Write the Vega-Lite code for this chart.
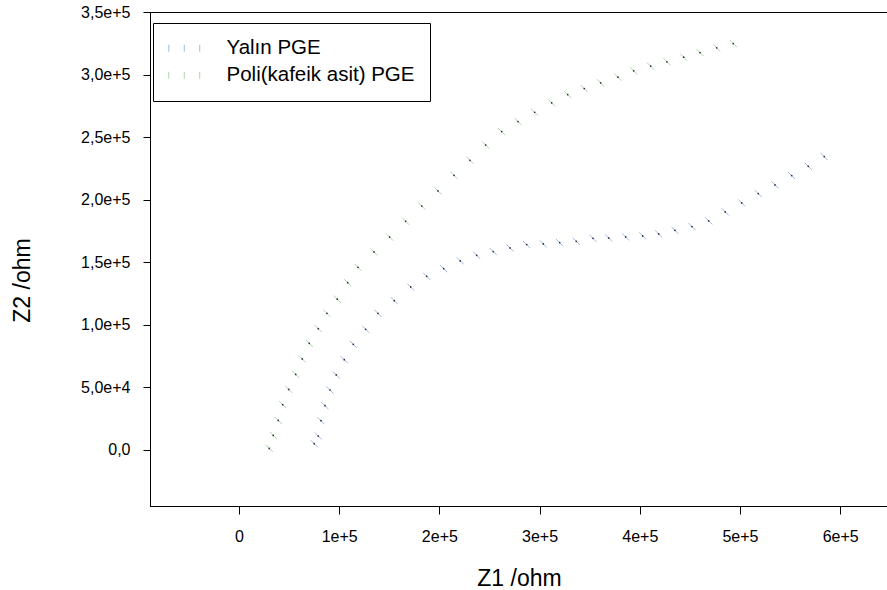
{
  "$schema": "https://vega.github.io/schema/vega-lite/v6.json",
  "width": 738,
  "height": 494,
  "autosize": {"type": "none"},
  "padding": {"left": 150, "top": 12, "right": 0, "bottom": 84},
  "background": "white",
  "config": {
    "font": "Liberation Sans",
    "view": {"stroke": "black", "strokeWidth": 1},
    "axis": {
      "grid": false,
      "domainColor": "black",
      "tickColor": "black",
      "labelColor": "black",
      "titleColor": "black",
      "labelFont": "Liberation Sans",
      "titleFont": "Liberation Sans",
      "titleFontWeight": "normal",
      "labelFontSize": 16,
      "titleFontSize": 23
    }
  },
  "data": {
    "values": [
      {"series": "Yalın PGE", "z1": 75150, "z2": 4800},
      {"series": "Yalın PGE", "z1": 79140, "z2": 10960},
      {"series": "Yalın PGE", "z1": 81840, "z2": 23200},
      {"series": "Yalın PGE", "z1": 85830, "z2": 35200},
      {"series": "Yalın PGE", "z1": 90820, "z2": 47760},
      {"series": "Yalın PGE", "z1": 97110, "z2": 59760},
      {"series": "Yalın PGE", "z1": 105090, "z2": 72000},
      {"series": "Yalın PGE", "z1": 114070, "z2": 84240},
      {"series": "Yalın PGE", "z1": 126450, "z2": 96240},
      {"series": "Yalın PGE", "z1": 138720, "z2": 109040},
      {"series": "Yalın PGE", "z1": 154990, "z2": 119200},
      {"series": "Yalın PGE", "z1": 171360, "z2": 130160},
      {"series": "Yalın PGE", "z1": 187330, "z2": 138640},
      {"series": "Yalın PGE", "z1": 204290, "z2": 144800},
      {"series": "Yalın PGE", "z1": 220860, "z2": 150960},
      {"series": "Yalın PGE", "z1": 237230, "z2": 155440},
      {"series": "Yalın PGE", "z1": 253790, "z2": 158400},
      {"series": "Yalın PGE", "z1": 270460, "z2": 161360},
      {"series": "Yalın PGE", "z1": 287130, "z2": 164000},
      {"series": "Yalın PGE", "z1": 303690, "z2": 164560},
      {"series": "Yalın PGE", "z1": 320060, "z2": 165600},
      {"series": "Yalın PGE", "z1": 336630, "z2": 166640},
      {"series": "Yalın PGE", "z1": 353290, "z2": 169040},
      {"series": "Yalın PGE", "z1": 368960, "z2": 169360},
      {"series": "Yalın PGE", "z1": 385930, "z2": 170160},
      {"series": "Yalın PGE", "z1": 402890, "z2": 170960},
      {"series": "Yalın PGE", "z1": 418860, "z2": 172560},
      {"series": "Yalın PGE", "z1": 435130, "z2": 175440},
      {"series": "Yalın PGE", "z1": 452100, "z2": 178400},
      {"series": "Yalın PGE", "z1": 468760, "z2": 182960},
      {"series": "Yalın PGE", "z1": 485330, "z2": 190160},
      {"series": "Yalın PGE", "z1": 501700, "z2": 197360},
      {"series": "Yalın PGE", "z1": 518260, "z2": 204800},
      {"series": "Yalın PGE", "z1": 534930, "z2": 211760},
      {"series": "Yalın PGE", "z1": 551600, "z2": 219200},
      {"series": "Yalın PGE", "z1": 568160, "z2": 226640},
      {"series": "Yalın PGE", "z1": 584130, "z2": 234400},
      {"series": "Poli(kafeik asit) PGE", "z1": 30240, "z2": 1040},
      {"series": "Poli(kafeik asit) PGE", "z1": 34230, "z2": 11440},
      {"series": "Poli(kafeik asit) PGE", "z1": 39220, "z2": 23440},
      {"series": "Poli(kafeik asit) PGE", "z1": 43610, "z2": 36000},
      {"series": "Poli(kafeik asit) PGE", "z1": 49600, "z2": 48240},
      {"series": "Poli(kafeik asit) PGE", "z1": 56590, "z2": 60240},
      {"series": "Poli(kafeik asit) PGE", "z1": 63170, "z2": 72560},
      {"series": "Poli(kafeik asit) PGE", "z1": 70160, "z2": 85040},
      {"series": "Poli(kafeik asit) PGE", "z1": 79140, "z2": 96800},
      {"series": "Poli(kafeik asit) PGE", "z1": 87820, "z2": 109040},
      {"series": "Poli(kafeik asit) PGE", "z1": 98100, "z2": 120400},
      {"series": "Poli(kafeik asit) PGE", "z1": 108480, "z2": 133600},
      {"series": "Poli(kafeik asit) PGE", "z1": 118760, "z2": 145840},
      {"series": "Poli(kafeik asit) PGE", "z1": 134730, "z2": 158160},
      {"series": "Poli(kafeik asit) PGE", "z1": 150400, "z2": 170000},
      {"series": "Poli(kafeik asit) PGE", "z1": 166370, "z2": 182640},
      {"series": "Poli(kafeik asit) PGE", "z1": 182440, "z2": 194800},
      {"series": "Poli(kafeik asit) PGE", "z1": 198600, "z2": 206960},
      {"series": "Poli(kafeik asit) PGE", "z1": 214570, "z2": 219440},
      {"series": "Poli(kafeik asit) PGE", "z1": 230540, "z2": 231440},
      {"series": "Poli(kafeik asit) PGE", "z1": 246210, "z2": 243600},
      {"series": "Poli(kafeik asit) PGE", "z1": 262180, "z2": 254400},
      {"series": "Poli(kafeik asit) PGE", "z1": 278440, "z2": 262400},
      {"series": "Poli(kafeik asit) PGE", "z1": 295110, "z2": 269840},
      {"series": "Poli(kafeik asit) PGE", "z1": 312080, "z2": 277360},
      {"series": "Poli(kafeik asit) PGE", "z1": 328040, "z2": 284000},
      {"series": "Poli(kafeik asit) PGE", "z1": 344610, "z2": 288800},
      {"series": "Poli(kafeik asit) PGE", "z1": 360980, "z2": 293360},
      {"series": "Poli(kafeik asit) PGE", "z1": 378240, "z2": 297840},
      {"series": "Poli(kafeik asit) PGE", "z1": 393910, "z2": 302960},
      {"series": "Poli(kafeik asit) PGE", "z1": 410880, "z2": 306640},
      {"series": "Poli(kafeik asit) PGE", "z1": 427150, "z2": 310160},
      {"series": "Poli(kafeik asit) PGE", "z1": 443810, "z2": 313840},
      {"series": "Poli(kafeik asit) PGE", "z1": 460080, "z2": 317600},
      {"series": "Poli(kafeik asit) PGE", "z1": 476750, "z2": 321360},
      {"series": "Poli(kafeik asit) PGE", "z1": 493310, "z2": 324800}
    ]
  },
  "encoding": {
    "x": {
      "field": "z1",
      "type": "quantitative",
      "scale": {"domain": [-88800, 647730], "nice": false, "zero": false},
      "axis": {
        "title": "Z1 /ohm",
        "values": [0, 100000, 200000, 300000, 400000, 500000, 600000],
        "labelExpr": "datum.value == 0 ? '0' : format(datum.value, '.0e')",
        "tickSize": 8,
        "labelPadding": 14,
        "titleY": 72,
        "titleBaseline": "middle"
      }
    },
    "y": {
      "field": "z2",
      "type": "quantitative",
      "scale": {"domain": [-45000, 350000], "nice": false, "zero": false},
      "axis": {
        "title": "Z2 /ohm",
        "values": [0, 50000, 100000, 150000, 200000, 250000, 300000, 350000],
        "labelExpr": "datum.value == 0 ? '0,0' : replace(format(datum.value, '.1e'), '.', ',')",
        "tickSize": 7,
        "labelPadding": 13,
        "titleX": -128,
        "titleY": 268,
        "titleAlign": "center",
        "titleBaseline": "middle"
      }
    }
  },
  "layer": [
    {
      "mark": {"type": "point", "filled": false, "shape": "M-1,-1L1,1", "size": 50, "strokeWidth": 1, "opacity": 1},
      "encoding": {
        "color": {
          "field": "series",
          "type": "nominal",
          "scale": {"domain": ["Yalın PGE", "Poli(kafeik asit) PGE"], "range": ["#9dbbe3", "#a9d8a2"]},
          "legend": {
            "title": null,
            "orient": "none",
            "legendX": 3,
            "legendY": 11,
            "strokeColor": "black",
            "fillColor": "white",
            "padding": 15,
            "rowPadding": 6,
            "labelFontSize": 20.5,
            "labelFont": "Liberation Sans",
            "labelColor": "black",
            "labelLimit": 0,
            "labelOffset": 32,
            "symbolType": "M-2,-0.45L-2,0.45M0,-0.45L0,0.45M2,-0.45L2,0.45",
            "symbolSize": 240,
            "symbolOffset": 6,
            "symbolStrokeWidth": 1,
            "symbolFillColor": "transparent"
          }
        }
      }
    },
    {
      "mark": {"type": "circle", "size": 3, "color": "#2a2a3a", "opacity": 1},
      "encoding": {}
    }
  ]
}
